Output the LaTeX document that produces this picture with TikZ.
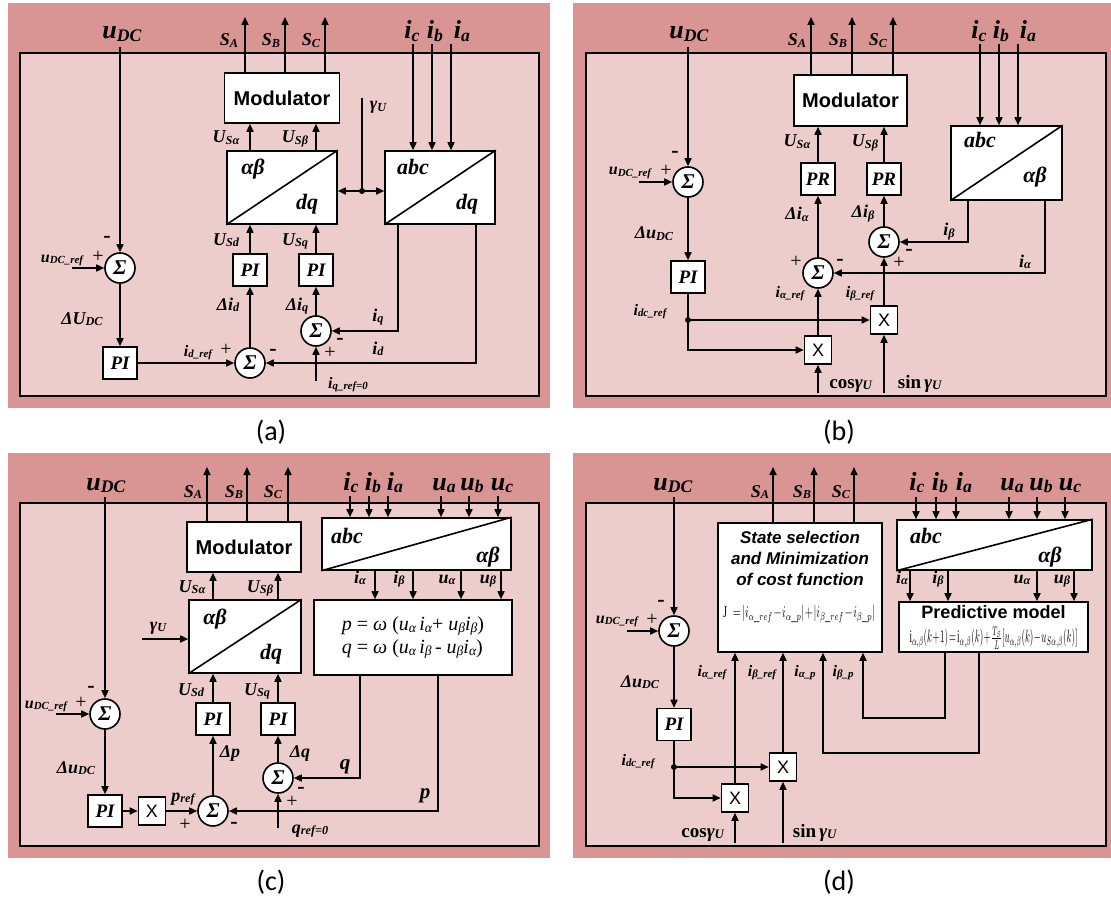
\documentclass[tikz,border=0pt]{standalone}
\usepackage{fontspec}
\setmainfont{Liberation Serif}
\newfontfamily\sansf{Liberation Sans}
\newfontfamily\capf{Carlito}
\usetikzlibrary{arrows.meta}
\newcommand\fs[1]{\fontsize{#1}{#1}\selectfont}
\newcommand\sbs[1]{\raisebox{-0.09em}{\scalebox{0.68}{#1}}}
\definecolor{pinkout}{RGB}{217,149,148}
\definecolor{pinkin}{RGB}{236,205,204}
\tikzset{
 ln/.style={line width=1.6pt},
 arr/.style={ln,-{Triangle[length=8pt,width=7pt]}},
 dbl/.style={ln,{Triangle[length=8pt,width=7pt]}-{Triangle[length=8pt,width=7pt]}},
 blk/.style={draw, fill=white, line width=1.6pt, inner sep=0pt},
 pib/.style={blk, minimum width=34pt, minimum height=32pt, font=\fs{19}\bfseries\itshape},
 xb/.style={blk, minimum width=27pt, minimum height=28pt, font=\sansf\fs{18}},
 modb/.style={blk, font=\sansf\bfseries\fs{20}},
 sumn/.style={circle, draw, fill=white, line width=1.6pt, minimum size=30pt, inner sep=0pt, font=\fs{21}\bfseries\itshape},
 big/.style={inner sep=0pt, anchor=base, font=\fs{26}\bfseries\itshape},
 mid/.style={inner sep=0pt, anchor=base, font=\fs{18}\bfseries\itshape},
 sml/.style={inner sep=0pt, anchor=base, font=\fs{16}\bfseries\itshape},
 trl/.style={inner sep=0pt, anchor=base, font=\fs{22}\bfseries\itshape},
 sgn/.style={inner sep=0pt, font=\fs{20}},
 mns/.style={inner sep=0pt, font=\fs{22}\bfseries},
 capt/.style={inner sep=0pt, font=\capf\fs{28}},
 jdot/.style={circle, fill, inner sep=0pt, minimum size=6pt},
 stt/.style={inner sep=0pt, anchor=base, font=\sansf\bfseries\itshape\fs{17}},
 outer/.style={fill=pinkout},
 inner/.style={fill=pinkin, draw=black, line width=1.4pt}
}
\begin{document}
\begin{tikzpicture}[x=1pt,y=-1pt]
\useasboundingbox (0,0) rectangle (1111,904);
\fill[white] (0,0) rectangle (1111,904);
% panels
\fill[outer] (8,3) rectangle (550,408);
\filldraw[inner] (20,53) rectangle (539,396);
\fill[outer] (573,3) rectangle (1111,408);
\filldraw[inner] (586,53) rectangle (1106,396);
\fill[outer] (8,453) rectangle (550,858);
\filldraw[inner] (20,503) rectangle (539,846);
\fill[outer] (573,453) rectangle (1111,858);
\filldraw[inner] (586,503) rectangle (1106,846);

%================ (a)
\node[modb, minimum width=115pt, minimum height=50pt] (a-mod) at (282,98) {Modulator};
\node[blk, minimum width=110pt, minimum height=73pt] (a-t1) at (282,187.5) {};
\draw[ln] (a-t1.south west) -- (a-t1.north east);
\node[blk, minimum width=110pt, minimum height=73pt] (a-t2) at (440,187.5) {};
\draw[ln] (a-t2.south west) -- (a-t2.north east);
\node[pib] (a-pid) at (250,270) {PI};
\node[pib] (a-piq) at (316,270) {PI};
\node[pib] (a-pi1) at (120,363) {PI};
\node[sumn] (a-s1) at (120,268) {Σ};
\node[sumn] (a-s2) at (250,363) {Σ};
\node[sumn] (a-s3) at (316,331) {Σ};
\coordinate (a-SA) at (245,17);
\coordinate (a-SB) at (285,17);
\coordinate (a-SC) at (325,17);
\coordinate (a-udc) at (120,47);
\coordinate (a-udcr) at (72,268);
\coordinate (a-gam) at (362,98);
\coordinate (a-ic) at (413,44);
\coordinate (a-ib) at (432,44);
\coordinate (a-ia) at (451,44);
\coordinate (a-iq) at (398,331);
\coordinate (a-id) at (476,363);
\coordinate (a-iqr) at (316,381);
\draw[arr] (a-mod.north -| a-SA) -- (a-SA);
\draw[arr] (a-mod.north -| a-SB) -- (a-SB);
\draw[arr] (a-mod.north -| a-SC) -- (a-SC);
\draw[arr] (a-t1.north -| a-pid) -- (a-mod.south -| a-pid);
\draw[arr] (a-t1.north -| a-piq) -- (a-mod.south -| a-piq);
\draw[arr] (a-pid.north) -- (a-t1.south -| a-pid);
\draw[arr] (a-piq.north) -- (a-t1.south -| a-piq);
\draw[arr] (a-s2.north) -- (a-pid.south);
\draw[arr] (a-s3.north) -- (a-piq.south);
\draw[arr] (a-udc) -- (a-s1.north);
\draw[arr] (a-udcr) -- (a-s1.west);
\draw[arr] (a-s1.south) -- (a-pi1.north);
\draw[arr] (a-pi1.east) -- (a-s2.west);
\draw[arr] (a-t2.south -| a-iq) -- (a-iq) -- (a-s3.east);
\draw[arr] (a-t2.south -| a-id) -- (a-id) -- (a-s2.east);
\draw[arr] (a-iqr) -- (a-s3.south);
\node[jdot] (a-dot) at (362,191) {};
\draw[ln] (a-gam) -- (a-dot);
\draw[dbl] (a-t1.east |- a-dot) -- (a-t2.west |- a-dot);
\draw[arr] (a-ic) -- (a-t2.north -| a-ic);
\draw[arr] (a-ib) -- (a-t2.north -| a-ib);
\draw[arr] (a-ia) -- (a-t2.north -| a-ia);
\node[big] (a-lu) at (122,39) {u\sbs{DC}};
\node[big] (a-lic) at (412,39) {i\sbs{c}};
\node[big] (a-lib) at (435,39) {i\sbs{b}};
\node[big] (a-lia) at (462,39) {i\sbs{a}};
\node[mid] (a-lSA) at (229,46) {S\sbs{A}};
\node[mid] (a-lSB) at (271,46) {S\sbs{B}};
\node[mid] (a-lSC) at (311,46) {S\sbs{C}};
\node[mid] (a-lUa) at (226,143) {U\sbs{Sα}};
\node[mid] (a-lUb) at (295,143) {U\sbs{Sβ}};
\node[trl] (a-lab1) at (253,175) {αβ};
\node[trl] (a-ldq1) at (307,210) {dq};
\node[trl] (a-labc) at (413,175) {abc};
\node[trl] (a-ldq2) at (467,210) {dq};
\node[mid] (a-lg) at (378,110) {γ\sbs{U}};
\node[mid] (a-lUd) at (226,245) {U\sbs{Sd}};
\node[mid] (a-lUq) at (295,245) {U\sbs{Sq}};
\node[mid] (a-ldid) at (228,310) {Δi\sbs{d}};
\node[mid] (a-ldiq) at (297,310) {Δi\sbs{q}};
\node[sml] (a-lur) at (62,262) {u\sbs{DC\_ref}};
\node[sgn] (a-p1) at (98,257) {+};
\node[mns] (a-m1) at (107,239) {-};
\node[mid] (a-ldU) at (82,324) {ΔU\sbs{DC}};
\node[sml] (a-lidr) at (198,356) {i\sbs{d\_ref}};
\node[sgn] (a-p2) at (226,350) {+};
\node[mns] (a-m2) at (273,352) {-};
\node[mid] (a-liq) at (378,321) {i\sbs{q}};
\node[mns] (a-m3) at (340,341) {-};
\node[sgn] (a-p3) at (330,353) {+};
\node[mid] (a-lid) at (378,354) {i\sbs{d}};
\node[sml] (a-liqr) at (348,388) {i\sbs{q\_ref=0}};
\node[capt] (a-cap) at (271,432) {(a)};

%================ (b)
\node[modb, minimum width=113pt, minimum height=51pt] (b-mod) at (850.5,100.5) {Modulator};
\node[pib] (b-pra) at (818,179) {PR};
\node[pib] (b-prb) at (884,179) {PR};
\node[blk, minimum width=111pt, minimum height=74pt] (b-t) at (1006.5,163) {};
\draw[ln] (b-t.south west) -- (b-t.north east);
\node[sumn] (b-s1) at (688,182) {Σ};
\node[pib] (b-pi) at (688,277) {PI};
\node[sumn] (b-sb) at (884,242) {Σ};
\node[sumn] (b-sa) at (818,273) {Σ};
\node[xb] (b-xb) at (884,320) {X};
\node[xb] (b-xa) at (818,350) {X};
\node[jdot] (b-dot) at (688,320) {};
\coordinate (b-SA) at (811,17);
\coordinate (b-SB) at (852,17);
\coordinate (b-SC) at (893,17);
\coordinate (b-ic) at (980,44);
\coordinate (b-ib0) at (999,44);
\coordinate (b-ia0) at (1018,44);
\coordinate (b-udc) at (688,47);
\coordinate (b-udcr) at (639,182);
\coordinate (b-ib) at (968,242);
\coordinate (b-ia) at (1045,273);
\coordinate (b-cos) at (818,393);
\coordinate (b-sin) at (884,393);
\coordinate (b-corner) at (688,350);
\draw[arr] (b-mod.north -| b-SA) -- (b-SA);
\draw[arr] (b-mod.north -| b-SB) -- (b-SB);
\draw[arr] (b-mod.north -| b-SC) -- (b-SC);
\draw[arr] (b-ic) -- (b-t.north -| b-ic);
\draw[arr] (b-ib0) -- (b-t.north -| b-ib0);
\draw[arr] (b-ia0) -- (b-t.north -| b-ia0);
\draw[arr] (b-udc) -- (b-s1.north);
\draw[arr] (b-udcr) -- (b-s1.west);
\draw[arr] (b-s1.south) -- (b-pi.north);
\draw[ln] (b-pi.south) -- (b-dot);
\draw[arr] (b-dot) -- (b-xb.west);
\draw[arr] (b-dot) -- (b-corner) -- (b-xa.west);
\draw[arr] (b-cos) -- (b-xa.south);
\draw[arr] (b-sin) -- (b-xb.south);
\draw[arr] (b-xa.north) -- (b-sa.south);
\draw[arr] (b-xb.north) -- (b-sb.south);
\draw[arr] (b-sa.north) -- (b-pra.south);
\draw[arr] (b-sb.north) -- (b-prb.south);
\draw[arr] (b-pra.north) -- (b-mod.south -| b-pra);
\draw[arr] (b-prb.north) -- (b-mod.south -| b-prb);
\draw[arr] (b-t.south -| b-ib) -- (b-ib) -- (b-sb.east);
\draw[arr] (b-t.south -| b-ia) -- (b-ia) -- (b-sa.east);
\node[big] (b-lu) at (689,39) {u\sbs{DC}};
\node[big] (b-lic) at (979,39) {i\sbs{c}};
\node[big] (b-lib) at (1001,39) {i\sbs{b}};
\node[big] (b-lia) at (1028,39) {i\sbs{a}};
\node[mid] (b-lSA) at (797,46) {S\sbs{A}};
\node[mid] (b-lSB) at (838,46) {S\sbs{B}};
\node[mid] (b-lSC) at (878,46) {S\sbs{C}};
\node[mid] (b-lUa) at (797,147) {U\sbs{Sα}};
\node[mid] (b-lUb) at (865,147) {U\sbs{Sβ}};
\node[trl] (b-labc) at (980,148) {abc};
\node[trl] (b-lab) at (1035,183) {αβ};
\node[mns] (b-m1) at (675,154) {-};
\node[sml] (b-lur) at (630,175) {u\sbs{DC\_ref}};
\node[sgn] (b-p1) at (666,171) {+};
\node[mid] (b-ldia) at (797,220) {Δi\sbs{α}};
\node[mid] (b-ldib) at (863,218) {Δi\sbs{β}};
\node[mid] (b-ldu) at (654,239) {Δu\sbs{DC}};
\node[mid] (b-lib2) at (949,236) {i\sbs{β}};
\node[mid] (b-lia2) at (1025,267) {i\sbs{α}};
\node[sgn] (b-p2) at (796,262) {+};
\node[mns] (b-m2) at (840,262) {-};
\node[sgn] (b-p3) at (899,263) {+};
\node[mns] (b-m3) at (909,252) {-};
\node[sml] (b-liar) at (790,297) {i\sbs{α\_ref}};
\node[sml] (b-libr) at (860,297) {i\sbs{β\_ref}};
\node[sml] (b-lidc) at (650,315) {i\sbs{dc\_ref}};
\node[inner sep=0pt, anchor=base, font=\fs{19}\bfseries] (b-lcos) at (851,388) {cos\textit{γ}\sbs{\textit{U}}};
\node[inner sep=0pt, anchor=base, font=\fs{19}\bfseries] (b-lsin) at (920,388) {sin\,\textit{γ}\sbs{\textit{U}}};
\node[capt] (b-cap) at (839,432) {(b)};

%================ (c)
\node[modb, minimum width=114pt, minimum height=50pt] (c-mod) at (244,547) {Modulator};
\node[blk, minimum width=112pt, minimum height=73pt] (c-t1) at (245,636.5) {};
\draw[ln] (c-t1.south west) -- (c-t1.north east);
\node[blk, minimum width=189pt, minimum height=52pt] (c-t2) at (416.5,544) {};
\draw[ln] (c-t2.south west) -- (c-t2.north east);
\node[blk, minimum width=198pt, minimum height=75pt, align=left, font=\fontsize{20}{23}\selectfont] (c-pq) at (413,637.5) {\textit{p} = \textit{ω} (\textit{u\sbs{α}\,i\sbs{α}}+ \textit{u\sbs{β}i\sbs{β}})\\\textit{q} = \textit{ω} (\textit{u\sbs{α}\,i\sbs{β}}\,- \textit{u\sbs{β}i\sbs{α}})};
\node[pib] (c-pi1) at (105,811) {PI};
\node[xb] (c-x) at (152,811) {X};
\node[sumn] (c-s1) at (105,714) {Σ};
\node[sumn] (c-s2) at (213,811) {Σ};
\node[pib] (c-pip) at (213,719) {PI};
\node[pib] (c-piq) at (278,719) {PI};
\node[sumn] (c-s3) at (278,778) {Σ};
\coordinate (c-SA) at (207,467);
\coordinate (c-SB) at (247,467);
\coordinate (c-SC) at (288,467);
\coordinate (c-udc) at (105,497);
\coordinate (c-udcr) at (56,714);
\coordinate (c-gam) at (142,639);
\coordinate (c-ic) at (350,496);
\coordinate (c-ib) at (369,496);
\coordinate (c-ia) at (388,496);
\coordinate (c-ua) at (441,496);
\coordinate (c-ub) at (469,496);
\coordinate (c-uc) at (498,496);
\coordinate (c-oia) at (375,585);
\coordinate (c-oib) at (413,585);
\coordinate (c-oua) at (461,585);
\coordinate (c-oub) at (501,585);
\coordinate (c-q) at (360,778);
\coordinate (c-p) at (438,811);
\coordinate (c-qr) at (278,828);
\draw[arr] (c-mod.north -| c-SA) -- (c-SA);
\draw[arr] (c-mod.north -| c-SB) -- (c-SB);
\draw[arr] (c-mod.north -| c-SC) -- (c-SC);
\foreach \k in {ic,ib,ia,ua,ub,uc} {\draw[arr] (c-\k) -- (c-t2.north -| c-\k);}
\foreach \k in {oia,oib,oua,oub} {\draw[arr] (c-t2.south -| c-\k) -- (c-pq.north -| c-\k);}
\draw[arr] (c-t1.north -| c-pip) -- (c-mod.south -| c-pip);
\draw[arr] (c-t1.north -| c-piq) -- (c-mod.south -| c-piq);
\draw[arr] (c-pip.north) -- (c-t1.south -| c-pip);
\draw[arr] (c-piq.north) -- (c-t1.south -| c-piq);
\draw[arr] (c-s2.north) -- (c-pip.south);
\draw[arr] (c-s3.north) -- (c-piq.south);
\draw[arr] (c-udc) -- (c-s1.north);
\draw[arr] (c-udcr) -- (c-s1.west);
\draw[arr] (c-s1.south) -- (c-pi1.north);
\draw[arr] (c-pi1.east) -- (c-x.west);
\draw[arr] (c-x.east) -- (c-s2.west);
\draw[arr] (c-pq.south -| c-q) -- (c-q) -- (c-s3.east);
\draw[arr] (c-pq.south -| c-p) -- (c-p) -- (c-s2.east);
\draw[arr] (c-qr) -- (c-s3.south);
\draw[arr] (c-gam) -- (c-t1.west |- c-gam);
\node[big] (c-lu) at (106,490) {u\sbs{DC}};
\node[big] (c-lic) at (351,490) {i\sbs{c}};
\node[big] (c-lib) at (373,490) {i\sbs{b}};
\node[big] (c-lia) at (395,490) {i\sbs{a}};
\node[big] (c-lua) at (444,490) {u\sbs{a}};
\node[big] (c-lub) at (472,490) {u\sbs{b}};
\node[big] (c-luc) at (502,490) {u\sbs{c}};
\node[mid] (c-lSA) at (193,497) {S\sbs{A}};
\node[mid] (c-lSB) at (234,497) {S\sbs{B}};
\node[mid] (c-lSC) at (273,497) {S\sbs{C}};
\node[trl] (c-labc) at (347,543) {abc};
\node[trl] (c-lab) at (488,562) {αβ};
\node[mid] (c-lia2) at (360,583) {i\sbs{α}};
\node[mid] (c-lib2) at (399,583) {i\sbs{β}};
\node[mid] (c-lua2) at (447,583) {u\sbs{α}};
\node[mid] (c-lub2) at (488,583) {u\sbs{β}};
\node[mid] (c-lUa) at (192,592) {U\sbs{Sα}};
\node[mid] (c-lUb) at (260,592) {U\sbs{Sβ}};
\node[trl] (c-lab1) at (215,624) {αβ};
\node[trl] (c-ldq) at (271,659) {dq};
\node[mid] (c-lg) at (158,630) {γ\sbs{U}};
\node[mns] (c-m1) at (91,689) {-};
\node[sml] (c-lur) at (46,708) {u\sbs{DC\_ref}};
\node[sgn] (c-p1) at (81,703) {+};
\node[mid] (c-ldu) at (76,773) {Δu\sbs{DC}};
\node[mid] (c-lUd) at (191,695) {U\sbs{Sd}};
\node[mid] (c-lUq) at (257,695) {U\sbs{Sq}};
\node[mid] (c-ldp) at (230,757) {Δp};
\node[mid] (c-ldq2) at (300,757) {Δq};
\node[inner sep=0pt, anchor=base, font=\fs{21}\bfseries\itshape] (c-lq) at (345,769) {q};
\node[inner sep=0pt, anchor=base, font=\fs{21}\bfseries\itshape] (c-lp) at (425,798) {p};
\node[mid] (c-lpr) at (183,801) {p\sbs{ref}};
\node[sgn] (c-p2) at (185,825) {+};
\node[mns] (c-m2) at (234,825) {-};
\node[mns] (c-m3) at (301,790) {-};
\node[sgn] (c-p3) at (292,802) {+};
\node[mid] (c-lqr) at (310,833) {q\sbs{ref=0}};
\node[capt] (c-cap) at (271,882) {(c)};

%================ (d)
\node[sumn] (d-s1) at (674,631) {Σ};
\node[pib] (d-pi) at (674,724.5) {PI};
\node[jdot] (d-dot) at (674,767) {};
\node[xb] (d-xb) at (783,767) {X};
\node[xb] (d-xa) at (735,798) {X};
\node[blk, minimum width=164pt, minimum height=129pt] (d-st) at (800,587.5) {};
\node[stt] (d-st1) at (800,543) {State selection};
\node[stt] (d-st2) at (800,564) {and Minimization};
\node[stt] (d-st3) at (800,585) {of cost function};
\node[inner sep=0pt] (d-J) at (799,614) {\resizebox*{152pt}{17pt}{$\mathrm{J}\;=\!\left|i_{\alpha\_ref}\!-\!i_{\alpha\_p}\right|\!+\!\left|i_{\beta\_ref}\!-\!i_{\beta\_p}\right|$}};
\node[blk, minimum width=195pt, minimum height=50pt] (d-t) at (994.5,545) {};
\draw[ln] (d-t.south west) -- (d-t.north east);
\node[blk, minimum width=189pt, minimum height=50pt] (d-pm) at (993.5,627) {};
\node[inner sep=0pt, anchor=base, font=\sansf\bfseries\fs{18}] (d-pm1) at (993.5,618) {Predictive model};
\node[inner sep=0pt] (d-pmf) at (993.5,638) {\resizebox*{168pt}{22pt}{$\mathrm{i}_{\alpha,\beta}(k\!+\!1)\!=\!\mathrm{i}_{\alpha,\beta}(k)\!+\!\frac{T_S}{L}\!\left[u_{\alpha,\beta}(k)\!-\!u_{S\alpha,\beta}(k)\right]$}};
\coordinate (d-SA) at (773,467);
\coordinate (d-SB) at (814,467);
\coordinate (d-SC) at (854,467);
\coordinate (d-udc) at (674,497);
\coordinate (d-udcr) at (627,631);
\coordinate (d-ic) at (916,497);
\coordinate (d-ib) at (936,497);
\coordinate (d-ia) at (956,497);
\coordinate (d-ua) at (1009,497);
\coordinate (d-ub) at (1037,497);
\coordinate (d-uc) at (1065,497);
\coordinate (d-oia) at (910,585);
\coordinate (d-oib) at (948,585);
\coordinate (d-oua) at (1037,585);
\coordinate (d-oub) at (1074,585);
\coordinate (d-cos) at (735,843);
\coordinate (d-sin) at (783,843);
\coordinate (d-corner) at (674,798);
\coordinate (d-b1) at (945,718);
\coordinate (d-b2) at (863,718);
\coordinate (d-a1) at (979,753);
\coordinate (d-a2) at (823,753);
\draw[arr] (d-st.north -| d-SA) -- (d-SA);
\draw[arr] (d-st.north -| d-SB) -- (d-SB);
\draw[arr] (d-st.north -| d-SC) -- (d-SC);
\foreach \k in {ic,ib,ia,ua,ub,uc} {\draw[arr] (d-\k) -- (d-t.north -| d-\k);}
\foreach \k in {oia,oib,oua,oub} {\draw[arr] (d-t.south -| d-\k) -- (d-pm.north -| d-\k);}
\draw[arr] (d-udc) -- (d-s1.north);
\draw[arr] (d-udcr) -- (d-s1.west);
\draw[arr] (d-s1.south) -- (d-pi.north);
\draw[ln] (d-pi.south) -- (d-dot);
\draw[arr] (d-dot) -- (d-xb.west);
\draw[arr] (d-dot) -- (d-corner) -- (d-xa.west);
\draw[arr] (d-cos) -- (d-xa.south);
\draw[arr] (d-sin) -- (d-xb.south);
\draw[arr] (d-xa.north) -- (d-st.south -| d-xa);
\draw[arr] (d-xb.north) -- (d-st.south -| d-xb);
\draw[arr] (d-pm.south -| d-b1) -- (d-b1) -- (d-b2) -- (d-st.south -| d-b2);
\draw[arr] (d-pm.south -| d-a1) -- (d-a1) -- (d-a2) -- (d-st.south -| d-a2);
\node[big] (d-lu) at (673,490) {u\sbs{DC}};
\node[big] (d-lic) at (917,490) {i\sbs{c}};
\node[big] (d-lib) at (940,490) {i\sbs{b}};
\node[big] (d-lia) at (964,490) {i\sbs{a}};
\node[big] (d-lua) at (1012,490) {u\sbs{a}};
\node[big] (d-lub) at (1041,490) {u\sbs{b}};
\node[big] (d-luc) at (1070,490) {u\sbs{c}};
\node[mid] (d-lSA) at (760,497) {S\sbs{A}};
\node[mid] (d-lSB) at (802,497) {S\sbs{B}};
\node[mid] (d-lSC) at (841,497) {S\sbs{C}};
\node[trl] (d-labc) at (926,543) {abc};
\node[trl] (d-lab) at (1050,562) {αβ};
\node[mid] (d-lia2) at (902,583) {i\sbs{α}};
\node[mid] (d-lib2) at (938,583) {i\sbs{β}};
\node[mid] (d-lua2) at (1022,583) {u\sbs{α}};
\node[mid] (d-lub2) at (1062,583) {u\sbs{β}};
\node[mns] (d-m1) at (661,603) {-};
\node[sml] (d-lur) at (617,623) {u\sbs{DC\_ref}};
\node[sgn] (d-p1) at (652,620) {+};
\node[mid] (d-ldu) at (640,687) {Δu\sbs{DC}};
\node[sml] (d-liar) at (712,676) {i\sbs{α\_ref}};
\node[sml] (d-libr) at (762,676) {i\sbs{β\_ref}};
\node[sml] (d-liap) at (805,676) {i\sbs{α\_p}};
\node[sml] (d-libp) at (843,676) {i\sbs{β\_p}};
\node[sml] (d-lidc) at (638,765) {i\sbs{dc\_ref}};
\node[inner sep=0pt, anchor=base, font=\fs{19}\bfseries] (d-lcos) at (703,837) {cos\textit{γ}\sbs{\textit{U}}};
\node[inner sep=0pt, anchor=base, font=\fs{19}\bfseries] (d-lsin) at (815,837) {sin\,\textit{γ}\sbs{\textit{U}}};
\node[capt] (d-cap) at (839,882) {(d)};
\end{tikzpicture}
\end{document}
